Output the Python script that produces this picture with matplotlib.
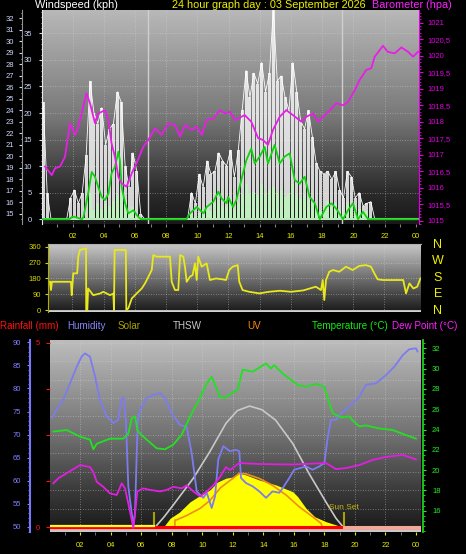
import numpy as np
import matplotlib
matplotlib.use("Agg")
import matplotlib.pyplot as plt
from matplotlib.ticker import FuncFormatter, MultipleLocator

plt.rcParams["font.family"] = ["Liberation Sans", "DejaVu Sans"]

# ---------------- data ----------------
# wind, 15 minute slots
slot_hours = 0.125 + 0.25 * np.arange(96)
gust_kph = [22, 5, 0, 0, 0, 0, 0, 4, 5.5, 3, 5, 12,
            26, 20, 18, 21, 14, 17, 18, 24, 22, 10, 6, 12.5,
            9, 1, 0, 0, 0, 0, 0, 0, 0, 0, 0, 0,
            0, 0, 5, 3, 8.5, 6, 11, 8.5, 9, 12.5, 11, 10,
            13, 8, 13, 20.5, 28, 23, 27.5, 25.5, 29.5, 24, 27.5, 39.5,
            26, 27, 23, 20.5, 29.5, 24, 18.5, 17, 20.5, 15.5, 10.5, 9,
            8.5, 9, 7.5, 9, 5.5, 4, 9, 8, 4, 5, 2.5, 3,
            3.3, 0, 0, 0, 0, 0, 0, 0, 0, 0, 0, 0]
speed_kph = [0, 0, 0, 0, 0, 0, 0, 0, 0, 0, 0, 0,
             4.8, 1.7, 3, 2, 3, 2.5, 3.5, 4.8, 5, 3.6, 1.7, 2.3,
             0.4, 0, 0, 0, 0, 0, 0, 0, 0, 0, 0, 0,
             0, 0, 1, 0.5, 1.1, 1.8, 2.3, 1.5, 3, 3.6, 2.5, 2.3,
             3.6, 2, 3, 4.8, 6.6, 4.8, 5.2, 4.5, 6.6, 4.8, 5.5, 6,
             4.8, 5.5, 4.2, 4.8, 6.6, 4.8, 3.8, 4.8, 3.6, 3, 2.3, 1.5,
             2.3, 3.5, 2.3, 3, 1.5, 1, 3.2, 2.3, 1.5, 2, 1, 1.5,
             0.5, 0, 0, 0, 0, 0, 0, 0, 0, 0, 0, 0]
avg_hours = [0.0, 1.8, 2.0, 2.3, 2.6, 2.7, 3.0, 3.23, 3.44, 3.65, 3.87, 4.08, 4.3,
             4.5, 4.72, 4.94, 5.04, 5.15, 5.37, 5.58, 5.9, 6.22, 6.4, 9.3, 9.53,
             9.96, 10.4, 10.6, 11.03, 11.35, 11.56, 11.88, 11.97, 12.29, 12.5,
             12.82, 13.14, 13.46, 13.68, 14.0, 14.32, 14.53, 14.96, 15.28, 15.6,
             15.92, 16.24, 16.56, 16.88, 17.2, 17.53, 17.85, 18.27, 18.6, 18.9,
             19.34, 19.66, 19.98, 20.3, 20.62, 20.94, 24.2]
avg_kph = [0, 0, 0.5, 0.3, 0, 0.4, 4.8, 8.9, 8.0, 6.1, 4.2, 3.6, 4.8,
           8.6, 9.9, 12.7, 11.1, 6.1, 3.0, 1.1, 1.7, 0.4, 0, 0, 1.1,
           2.3, 1.1, 2.3, 3.3, 5.2, 3.9, 3.0, 4.2, 2.3, 3.6,
           7.4, 11.1, 13.3, 10.5, 11.8, 13.6, 10.5, 14.0, 10.5, 11.8,
           12.4, 7.4, 6.7, 8.0, 4.2, 3.0, 0, 2.3, 3.0, 2.0,
           0, 1.7, 3.0, 0, 1.4, 0, 0]
baro_hours = [0.24, 0.67, 0.88, 1.2, 1.52, 1.84, 2.16, 2.37, 2.9, 3.12, 3.44, 3.65,
              4.08, 4.3, 4.5, 4.72, 4.94, 5.15, 5.47, 5.8, 6.1, 6.54, 6.86, 7.29,
              7.72, 8.14, 8.57, 8.9, 9.21, 9.64, 9.96, 10.28, 10.6, 11.03, 11.46,
              11.78, 12.1, 12.4, 13.04, 13.46, 13.9, 14.2, 14.53, 14.85, 15.28,
              15.7, 16.13, 16.67, 16.99, 17.42, 17.74, 18.17, 18.6, 18.9, 19.34,
              19.66, 20.1, 20.4, 20.83, 21.15, 21.37, 21.9, 22.2, 22.65, 23.08,
              23.5, 23.83, 24.15]
baro_hpa = [1016.64, 1016.38, 1016.59, 1016.64, 1016.94, 1017.95, 1017.6, 1017.85,
            1018.86, 1018.56, 1017.96, 1018.25, 1018.35, 1018.05, 1017.35, 1016.94,
            1016.33, 1016.13, 1016.03, 1016.44, 1016.74, 1017.24, 1017.45, 1017.8,
            1017.6, 1017.95, 1017.9, 1017.55, 1017.9, 1017.75, 1017.85, 1017.6,
            1018.05, 1018.1, 1018.35, 1018.25, 1018.3, 1018.05, 1018.2, 1018.0,
            1017.5, 1017.45, 1017.3, 1017.75, 1018.15, 1018.35, 1018.2, 1018.0,
            1018.15, 1018.25, 1018.0, 1018.2, 1018.4, 1018.56, 1018.5, 1018.6,
            1018.96, 1019.26, 1019.57, 1019.62, 1019.97, 1020.3, 1020.12, 1020.07,
            1020.25, 1020.12, 1019.97, 1020.12]

# wind direction
dir_hours = [0.56, 0.62, 0.68, 1.9, 1.95, 2.05, 2.3, 2.37, 2.48, 2.87, 2.88, 2.95,
             3.0, 3.33, 3.76, 3.98, 4.4, 4.62, 4.66, 4.7, 5.04, 5.42, 5.45, 5.58,
             5.8, 6.12, 6.44, 6.65, 6.76, 7.08, 7.18, 7.4, 8.25, 8.36, 8.57, 8.78,
             8.9, 9.1, 9.21, 9.32, 9.53, 9.7, 9.85, 9.96, 10.06, 10.28, 10.6,
             10.81, 11.2, 11.6, 11.84, 12.05, 12.27, 12.59, 12.69, 12.9, 13.33,
             13.97, 14.6, 15.3, 16.0, 16.8, 17.6, 17.93, 18.04, 18.14, 18.25,
             18.46, 18.7, 19.1, 19.53, 19.96, 20.38, 20.8, 21.13, 21.35, 21.56,
             21.9, 23.2, 23.38, 23.6, 23.85, 24.1, 24.3]
dir_deg = [161, 114, 161, 161, 85, 209, 209, 304, 342, 351, 0, 0,
           123, 85, 94, 104, 85, 94, 0, 342, 342, 342, 0, 10,
           66, 95, 123, 152, 171, 228, 313, 304, 304, 161, 114, 114,
           313, 304, 247, 161, 190, 199, 266, 171, 304, 247, 266,
           171, 180, 175, 171, 228, 247, 256, 161, 114, 104,
           95, 104, 110, 104, 112, 133, 114, 171, 57, 171,
           218, 228, 218, 247, 228, 251, 256, 247, 209, 175,
           171, 171, 95, 152, 123, 133, 180]
dir_names = ["N", "W", "S", "E", "N"]

# bottom panel
hum_hours = [0.18, 0.58, 0.9, 1.34, 1.78, 2.1, 2.32, 2.65, 2.98, 3.3, 3.75, 4.18, 4.5,
             4.73, 4.88, 5.0, 5.16, 5.38, 5.49, 5.6, 5.71, 5.78, 5.93, 6.36, 6.8,
             7.24, 7.56, 8.0, 8.55, 8.98, 9.31, 9.64, 10.07, 10.3, 10.62, 10.84,
             11.05, 11.38, 11.82, 12.2, 12.43, 12.54, 12.87, 13.3, 13.74, 14.18,
             14.6, 15.05, 15.27, 15.7, 16.03, 16.8, 17.23, 17.67, 18.0, 18.2,
             18.43, 18.76, 19.09, 19.63, 20.29, 20.73, 21.38, 22.04, 22.58, 23.13,
             23.56, 24.0, 24.1]
hum_pct = [73.6, 76.1, 77.5, 81.1, 84.7, 86.9, 87.6, 86.9, 82.6, 77.5, 73.9, 72.5, 73.2,
           77.9, 77.9, 73.2, 58.8, 53.0, 50.5, 53.0, 66.0, 73.2, 75.3, 77.9, 78.6,
           79.0, 77.9, 74.6, 72.1, 71.7, 66.0, 57.7, 56.3, 57.4, 54.1, 56.6,
           64.6, 67.5, 66.4, 66.7, 66.4, 60.6, 59.5, 58.8, 57.7, 56.3,
           57.7, 57.4, 58.4, 60.6, 62.4, 63.1, 62.4, 63.1, 63.9, 68.9,
           73.2, 73.2, 74.6, 76.1, 78.2, 80.8, 81.1, 82.9, 84.7, 87.2,
           88.5, 88.7, 88.0]
temp_hours = [0.25, 1.12, 2.0, 2.65, 2.87, 3.09, 3.96, 4.83, 5.16, 5.38, 5.6, 5.75,
              5.93, 6.36, 7.02, 7.56, 8.1, 8.66, 9.09, 9.42, 9.86, 10.3, 10.62,
              11.17, 11.49, 12.04, 12.32, 12.65, 13.3, 14.18, 14.5, 14.72, 15.27,
              15.82, 16.25, 16.8, 17.45, 18.0, 18.2, 18.55, 19.09, 19.63, 19.85,
              20.29, 20.73, 21.6, 22.47, 23.35, 24.0]
temp_c = [23.8, 23.95, 23.3, 23.0, 22.05, 22.6, 23.1, 23.1, 23.6, 25.1, 25.3, 23.95,
          23.6, 23.0, 22.15, 22.05, 22.5, 23.5, 24.9, 25.9, 27.1, 28.55, 29.2,
          27.2, 27.1, 27.7, 27.9, 29.9, 29.7, 30.5, 30.0, 30.35, 29.5,
          28.9, 28.4, 28.2, 28.5, 28.2, 27.2, 25.6, 25.2, 25.3, 24.9,
          24.3, 24.4, 24.1, 23.95, 23.45, 23.1]
dew_hours = [0.25, 0.58, 1.13, 2.0, 2.65, 2.87, 3.09, 3.52, 3.96, 4.4, 4.73, 4.94,
             5.16, 5.38, 5.49, 5.6, 5.75, 6.14, 6.58, 7.24, 7.68, 8.1, 8.66, 8.98,
             9.42, 9.86, 10.3, 10.73, 11.17, 11.56, 11.82, 12.43, 13.74, 15.93,
             18.1, 18.76, 19.42, 20.29, 21.16, 22.04, 23.13, 24.0]
dew_c = [18.7, 19.2, 19.7, 20.5, 20.3, 19.8, 18.85, 18.35, 17.7, 17.55, 18.7, 18.2,
         16.7, 15.1, 14.3, 15.75, 17.9, 18.2, 18.05, 17.9, 18.05, 18.35, 18.2, 18.5,
         17.9, 17.4, 17.9, 18.5, 19.35, 20.3, 20.0, 20.7, 20.6, 20.55,
         20.7, 20.1, 20.2, 20.5, 21.0, 21.3, 21.5, 21.05]
solar_hours = [7.4, 7.9, 8.5, 9.2, 9.9, 10.5, 11.0, 11.56, 12.0, 12.43, 12.87, 13.74,
               14.83, 15.93, 16.25, 16.8, 17.37, 18.1, 18.98, 19.3]
solar_wm2 = [0, 53, 85, 140, 176, 203, 245, 266, 272, 292, 283, 256,
             230, 194, 168, 106, 61, 35, 12, 0]
uv_hours = [8.2, 8.22, 8.3, 9.0, 9.86, 10.5, 11.2, 12.0, 12.43, 12.87, 13.74, 14.6,
            15.5, 16.36, 17.24, 17.78, 17.9]
uv_index = [0, 0.45, 0.45, 0.7, 1.08, 1.5, 2.2, 2.7, 2.98, 2.95, 2.7, 2.33,
            1.8, 1.16, 0.62, 0.27, 0]
thsw_hours = [6.86, 7.5, 8.1, 9.42, 10.5, 11.56, 12.3, 13.1, 13.9, 14.8, 15.93, 17.0,
              18.1, 18.76, 19.3]
thsw_vals = [0, 60, 123, 266, 407, 558, 625, 649, 630, 575, 450, 290,
             140, 53, 0]
sunrise_h, sunset_h = 6.85, 19.3

hour_ticks = list(range(2, 25, 2))
hour_labels = ["%02d" % (h % 24) for h in hour_ticks]
legend_items = [("Rainfall (mm)", "#ff1010", 0), ("Humidity", "#8888ff", 67),
                ("Solar", "#a8a400", 118), ("THSW", "#c8c8c8", 173),
                ("UV", "#ff8a10", 247), ("Temperature (°C)", "#10ee10", 312),
                ("Dew Point (°C)", "#ff20ff", 392)]

# ---------------- figure ----------------
W, H = 466, 554
fig = plt.figure(figsize=(W / 100, H / 100), dpi=100, facecolor="black")
PT = 0.72  # points per pixel


def px_axes(x0, y0, x1, y1):
    ax = fig.add_axes([x0 / W, 1 - y1 / H, (x1 - x0) / W, (y1 - y0) / H])
    ax.patch.set_visible(False)
    return ax


def shade(ax, stops, levels):
    t = np.linspace(0, 1, 200)
    g = np.interp(t, stops, levels)
    ax.imshow(g[:, None], cmap="gray", vmin=0, vmax=1, aspect="auto",
              extent=[0, 1, 0, 1], transform=ax.transAxes, zorder=0)


def hide_spines(ax, keep=()):
    for name, s in ax.spines.items():
        s.set_visible(name in keep)


def frac_line(ax, f, **kw):
    ax.plot([0, 1], [f, f], transform=ax.transAxes, **kw)


grid_kw = dict(color="#d8d8d8", ls=(0, (1, 2)), lw=0.6, alpha=0.55, zorder=1)

# ---- top: wind + barometer ----
ax_w = px_axes(42, 10, 419, 224)
shade(ax_w, [0, 0.5, 0.85, 1], [0.72, 0.47, 0.17, 0.1])
ax_w.set_xlim(0.045, 24.21)
ax_w.set_ylim(-0.9, 39.4)
for h in hour_ticks[:-1]:
    ax_w.axvline(h, **grid_kw)
for v in range(5, 40, 5):
    ax_w.axhline(v, **grid_kw)
for h in (sunrise_h, sunset_h):
    ax_w.axvline(h, color="#cfcfcf", lw=1, zorder=1)
ax_w.bar(slot_hours, gust_kph, width=0.19, color="#f4f4f4", alpha=0.85, lw=0, zorder=2)
ax_w.plot(slot_hours, gust_kph, color="white", lw=0.6, zorder=2)
ax_w.bar(slot_hours, speed_kph, width=0.19, color="#c0f0c0", lw=0, zorder=3)
ax_w.axhline(0, color="#b8e8b8", lw=1.5, zorder=3)
ax_w.plot(avg_hours, avg_kph, color="#12d012", lw=1.3, zorder=4)
hide_spines(ax_w, keep=("left",))
ax_w.spines["left"].set_color("#e8e8e8")
ax_w.set_yticks(range(0, 36, 5))
ax_w.yaxis.set_minor_locator(MultipleLocator(1))
ax_w.tick_params(axis="y", which="both", colors="#d0d8ff", labelsize=5.5, length=2, pad=5)
ax_w.tick_params(axis="y", which="minor", length=1)
ax_w.set_xticks(range(1, 25))
ax_w.tick_params(axis="x", length=2, color="#808080", labelbottom=False)

ax_b = ax_w.twinx()
ax_b.set_ylim(1014.9, 1021.385)
ax_b.plot(baro_hours, baro_hpa, color="#e81ee8", lw=1.3, zorder=5)
hide_spines(ax_b, keep=("right",))
ax_b.spines["right"].set_color("#e000e0")
ax_b.set_yticks(np.arange(1015, 1021.01, 0.5))
ax_b.yaxis.set_major_formatter(FuncFormatter(
    lambda v, p: "%d" % round(v) if abs(v - round(v)) < 0.01 else ("%.1f" % v).replace(".", ",")))
ax_b.yaxis.set_minor_locator(MultipleLocator(0.1))
ax_b.tick_params(axis="y", which="both", colors="#e000e0", labelsize=5.5, length=3, pad=3)
ax_b.tick_params(axis="y", which="minor", length=1.5)

ax_t = ax_w.twinx()
ax_t.set_ylim(14.1, 32.72)
hide_spines(ax_t, keep=("left",))
ax_t.spines["left"].set_position(("outward", 20 * PT))
ax_t.spines["left"].set_color("#909090")
ax_t.yaxis.set_ticks_position("left")
ax_t.yaxis.set_label_position("left")
ax_t.set_yticks(range(15, 33))
ax_t.yaxis.set_minor_locator(MultipleLocator(0.5))
ax_t.tick_params(axis="y", which="both", colors="#d0d8ff", labelsize=5.5, length=2, pad=4)
ax_t.tick_params(axis="y", which="minor", length=1)

# ---- middle: wind direction ----
ax_d = px_axes(48, 244, 421, 312)
shade(ax_d, [0, 1], [0.78, 0.1])
ax_d.set_xlim(0.43, 24.34)
ax_d.set_ylim(-11, 376)
for h in hour_ticks[:-1]:
    ax_d.axvline(h, **grid_kw)
for v in (90, 180, 270):
    ax_d.axhline(v, **grid_kw)
ax_d.axhline(-6, color="#d0d0d0", lw=2, zorder=2)
ax_d.plot(dir_hours, dir_deg, color="#e8e81a", lw=1.3, zorder=3)
hide_spines(ax_d, keep=("left", "top"))
ax_d.spines["left"].set_color("#b0b000")
ax_d.spines["top"].set_color("#b0b0b0")
ax_d.set_yticks([0, 90, 180, 270, 360])
ax_d.tick_params(axis="y", colors="#d8d800", labelsize=5.5, length=2, pad=3)
ax_d.xaxis.tick_top()
ax_d.set_xticks(hour_ticks)
ax_d.set_xticklabels(hour_labels)
ax_d.tick_params(axis="x", colors="#e8e800", labelsize=5.5, length=0, pad=3)
for i, name in enumerate(dir_names):
    fig.text(438 / W, 1 - (245 + i * 16.4) / H, name, color="#f0f000",
             fontsize=9, ha="center", va="center")

# ---- headers and legend row ----
fig.text(35 / W, 1 - 5 / H, "Windspeed (kph)", color="white", fontsize=7.8, va="center")
fig.text(172 / W, 1 - 5 / H, "24 hour graph day : 03 September 2026", color="#f0f000",
         fontsize=7.8, va="center")
fig.text(372 / W, 1 - 5 / H, "Barometer (hpa)", color="#ff20ff", fontsize=7.8, va="center")
for label, colour, x0 in legend_items:
    fig.text(x0 / W, 1 - 326 / H, label, color=colour, fontsize=7.1, va="center")

# ---- bottom panel ----
ax_s = px_axes(50, 340, 421, 532)
shade(ax_s, [0, 0.5, 0.8, 1], [0.74, 0.44, 0.22, 0.1])
ax_s.set_xlim(0.03, 24.33)
ax_s.set_ylim(-20, 1000)
for h in hour_ticks[:-1]:
    ax_s.axvline(h, **grid_kw)
for k in range(1, 11):
    frac_line(ax_s, (k * 0.5 + 0.13) / 5.2, **grid_kw)
ax_s.fill_between(solar_hours, 0, solar_wm2, color="#ffff00", lw=0, zorder=2)
ax_s.plot(thsw_hours, thsw_vals, color="#c8c8c8", lw=1.2, zorder=3)
ax_s.vlines([sunrise_h, sunset_h], 0, 86, color="#a8a000", lw=1.5, zorder=3)
ax_s.text(sunset_h, 112, "Sun Set", color="#c8b400", fontsize=6, ha="center", va="center", zorder=4)
frac_line(ax_s, 0.004, color="#c8c8c8", lw=1.5, zorder=2)
hide_spines(ax_s)
ax_s.set_yticks([])
ax_s.set_xticks(hour_ticks)
ax_s.set_xticklabels(hour_labels)
ax_s.set_xticks(range(1, 25), minor=True)
ax_s.tick_params(axis="x", which="both", colors="#e8e800", labelsize=5.5, length=2, pad=5)
ax_s.tick_params(axis="x", which="minor", color="#808080")

ax_uv = px_axes(50, 340, 421, 532)
ax_uv.set_xlim(0.03, 24.33)
ax_uv.set_ylim(-0.2, 10.2)
ax_uv.plot(uv_hours, uv_index, color="#f08c1e", lw=1.2)
hide_spines(ax_uv)
ax_uv.set_xticks([])
ax_uv.set_yticks([])

ax_h = px_axes(50, 340, 421, 532)
ax_h.set_xlim(0.03, 24.33)
ax_h.set_ylim(48.9, 90.5)
ax_h.plot(hum_hours, hum_pct, color="#7c7cf0", lw=1.3)
hide_spines(ax_h, keep=("left",))
ax_h.spines["left"].set_position(("outward", 20 * PT))
ax_h.spines["left"].set_color("#7878ff")
ax_h.spines["left"].set_linewidth(1.5)
ax_h.set_xticks([])
ax_h.set_yticks(range(50, 91, 5))
ax_h.yaxis.set_minor_locator(MultipleLocator(1))
ax_h.tick_params(axis="y", which="both", colors="#8080ff", labelsize=5.5, length=2.5, pad=4)
ax_h.tick_params(axis="y", which="minor", length=1.2)

ax_r = px_axes(50, 340, 421, 532)
ax_r.set_xlim(0.03, 24.33)
ax_r.set_ylim(-0.13, 5.07)
ax_r.plot([0.03, 24.33], [-0.06, -0.06], color="#f0a8a8", lw=1.6)
ax_r.plot([0.03, 24.33], [0, 0], color="#ff0000", lw=2.2)
ax_r.plot([0.03, sunrise_h], [0.03, 0.03], color="#ffff30", lw=1.6)
ax_r.plot([sunset_h, 24.33], [0.0, 0.0], color="#f0a898", lw=2.2)
hide_spines(ax_r)
ax_r.set_xticks([])
ax_r.set_yticks([0, 1.25, 2.5, 3.75, 5])
ax_r.yaxis.set_major_formatter(FuncFormatter(lambda v, p: "%d" % v if v in (0, 5) else ""))
ax_r.tick_params(axis="y", colors="#ff1010", labelsize=5.5, length=3, pad=4)

ax_tc = px_axes(50, 340, 421, 532)
ax_tc.set_xlim(0.03, 24.33)
ax_tc.set_ylim(13.9, 32.82)
ax_tc.plot(dew_hours, dew_c, color="#e21ee2", lw=1.3)
ax_tc.plot(temp_hours, temp_c, color="#22e022", lw=1.3)
hide_spines(ax_tc, keep=("right",))
ax_tc.spines["right"].set_position(("outward", 2 * PT))
ax_tc.spines["right"].set_color("#20e020")
ax_tc.spines["right"].set_linewidth(1.2)
ax_tc.yaxis.tick_right()
ax_tc.set_xticks([])
ax_tc.set_yticks(range(16, 33, 2))
ax_tc.yaxis.set_minor_locator(MultipleLocator(0.5))
ax_tc.tick_params(axis="y", which="both", colors="#20f020", labelsize=5.5, length=2.5, pad=4)
ax_tc.tick_params(axis="y", which="minor", length=1.2)

fig.savefig("out.png", dpi=100, facecolor="black")
